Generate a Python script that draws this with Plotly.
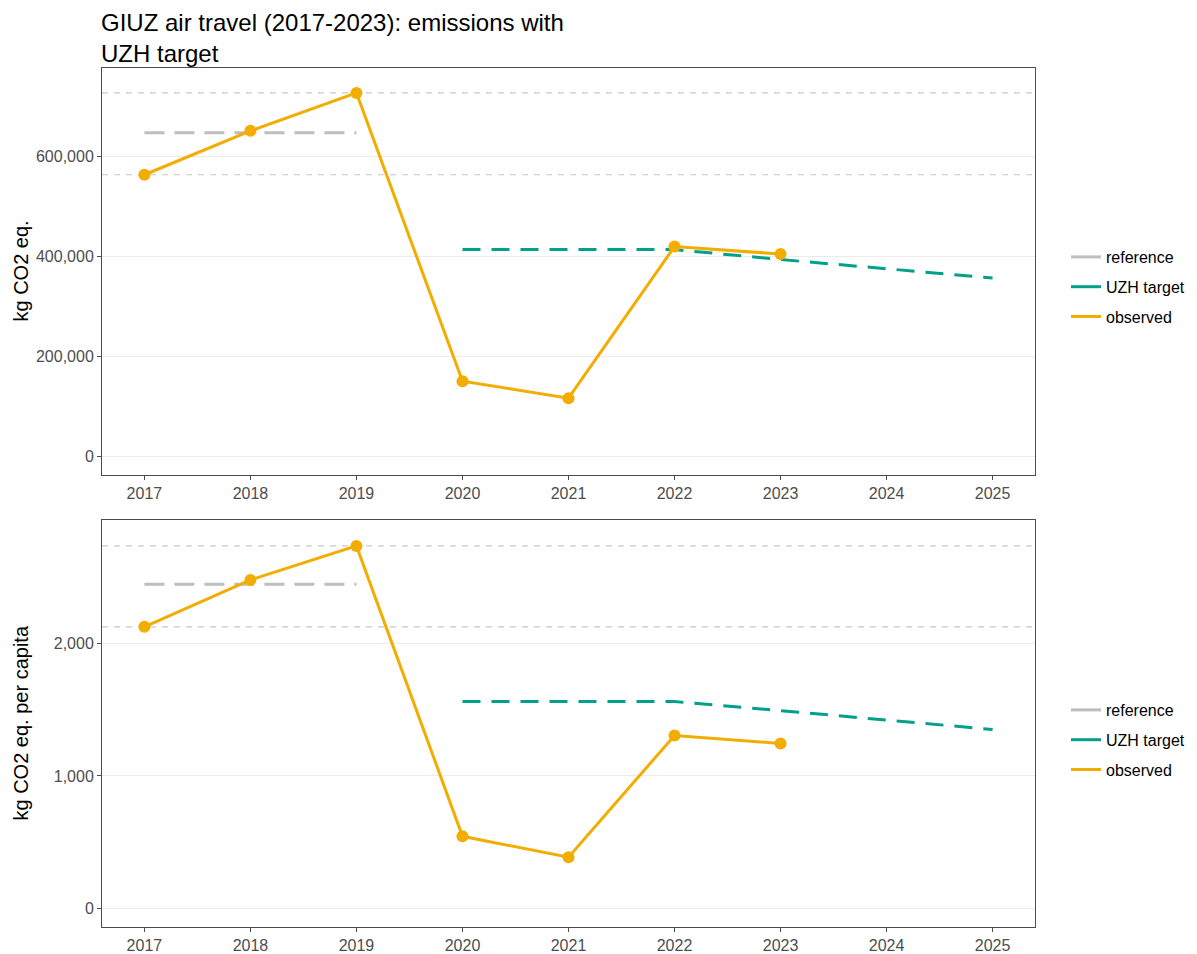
import plotly.graph_objects as go

years_obs = [2017, 2018, 2019, 2020, 2021, 2022, 2023]
obs_total = [564000, 652000, 728000, 150000, 116000, 420000, 405000]
obs_capita = [2128, 2483, 2740, 543, 385, 1306, 1245]

years_ref = [2017, 2019]
years_target = [2020, 2021, 2022, 2023, 2024, 2025]
target_total = [414000, 414000, 414000, 394000, 376000, 357000]
target_capita = [1562, 1562, 1562, 1494, 1424, 1351]

ref_total_mean = 648000
ref_capita_mean = 2450

x_ticks = list(range(2017, 2026))

title_text = "GIUZ air travel (2017-2023): emissions with<br>UZH target"
y_titles = ["kg CO2 eq.", "kg CO2 eq. per capita"]

ORANGE = "#F2AD00"
TEAL = "#00A08A"
GREY = "#BEBEBE"
FONT = "Liberation Sans, Arial"

fig = go.Figure()


def add_panel(xa, ya, obs, target, mean, legend):
    # min / max reference lines
    for v in (min(obs[:3]), max(obs[:3])):
        fig.add_trace(go.Scatter(x=[2016.6, 2025.4], y=[v, v], mode="lines",
                                 line=dict(color="#C8C8C8", width=1.2, dash="6px,6px"),
                                 xaxis=xa, yaxis=ya, showlegend=False, hoverinfo="skip"))
    fig.add_trace(go.Scatter(x=years_ref, y=[mean, mean], mode="lines",
                             line=dict(color=GREY, width=3, dash="20px,10px"),
                             xaxis=xa, yaxis=ya, showlegend=False))
    fig.add_trace(go.Scatter(x=years_target, y=target, mode="lines",
                             line=dict(color=TEAL, width=3, dash="18px,11px"),
                             xaxis=xa, yaxis=ya, showlegend=False))
    fig.add_trace(go.Scatter(x=years_obs, y=obs, mode="lines+markers",
                             line=dict(color=ORANGE, width=3),
                             marker=dict(color=ORANGE, size=12),
                             xaxis=xa, yaxis=ya, showlegend=False))
    # legend entries
    for name, col in (("reference", GREY), ("UZH target", TEAL), ("observed", ORANGE)):
        fig.add_trace(go.Scatter(x=[None], y=[None], mode="lines", name=name,
                                 line=dict(color=col, width=3),
                                 legendgroup=legend + name,
                                 xaxis=xa, yaxis=ya, legend=legend, showlegend=True))


add_panel("x", "y", obs_total, target_total, ref_total_mean, "legend")
add_panel("x2", "y2", obs_capita, target_capita, ref_capita_mean, "legend2")

axis_common = dict(showline=True, linecolor="#4D4D4D", linewidth=1, mirror=True,
                   ticks="outside", ticklen=4, tickcolor="#4D4D4D",
                   tickfont=dict(family=FONT, size=16, color="#4D4D4D"),
                   zeroline=False, automargin=False)

# page body has an 8px offset; plot area on screen: x 102..1035, y 68..927
W, H = 1189, 946
L, T = 94, 60
R = W - 1027
B = H - 919
PH = H - T - B
PW = W - L - R

annotations = [
    dict(text=title_text, xref="paper", yref="paper", x=-0.002, y=1 + T / PH,
         xanchor="left", yanchor="top", align="left", borderpad=0, showarrow=False,
         font=dict(size=24, color="black")),
    dict(text=y_titles[0], xref="paper", yref="y domain", x=(12 - L) / PW, y=0.5,
         xanchor="center", yanchor="middle", textangle=-90, showarrow=False,
         font=dict(size=20, color="black")),
    dict(text=y_titles[1], xref="paper", yref="y2 domain", x=(12 - L) / PW, y=0.5,
         xanchor="center", yanchor="middle", textangle=-90, showarrow=False,
         font=dict(size=20, color="black")),
]

fig.update_layout(
    width=W, height=H,
    paper_bgcolor="white", plot_bgcolor="white",
    margin=dict(l=L, r=R, t=T, b=B, autoexpand=False),
    font=dict(family=FONT, color="black"),
    annotations=annotations,
    xaxis=dict(domain=[0, 1], range=[2016.6, 2025.4], tickvals=x_ticks, anchor="y",
               showgrid=False, **axis_common),
    yaxis=dict(domain=[(919 - 467) / PH, 1], range=[-38000, 778000],
               tickvals=[0, 200000, 400000, 600000], tickformat=",",
               showgrid=True, gridcolor="#EBEBEB", gridwidth=1.2, **axis_common),
    xaxis2=dict(domain=[0, 1], range=[2016.6, 2025.4], tickvals=x_ticks, anchor="y2",
                showgrid=False, **axis_common),
    yaxis2=dict(domain=[0, (919 - 512) / PH], range=[-143, 2936],
                tickvals=[0, 1000, 2000], tickformat=",",
                showgrid=True, gridcolor="#EBEBEB", gridwidth=1.2, **axis_common),
    legend=dict(x=(1058 - L) / PW, xanchor="left", y=(919 - 279) / PH, yanchor="middle",
                font=dict(size=16, color="black"), bgcolor="rgba(0,0,0,0)",
                itemwidth=30, tracegroupgap=6),
    legend2=dict(x=(1058 - L) / PW, xanchor="left", y=(919 - 732) / PH, yanchor="middle",
                 font=dict(size=16, color="black"), bgcolor="rgba(0,0,0,0)",
                 itemwidth=30, tracegroupgap=6),
)

fig.write_html("out.html")
